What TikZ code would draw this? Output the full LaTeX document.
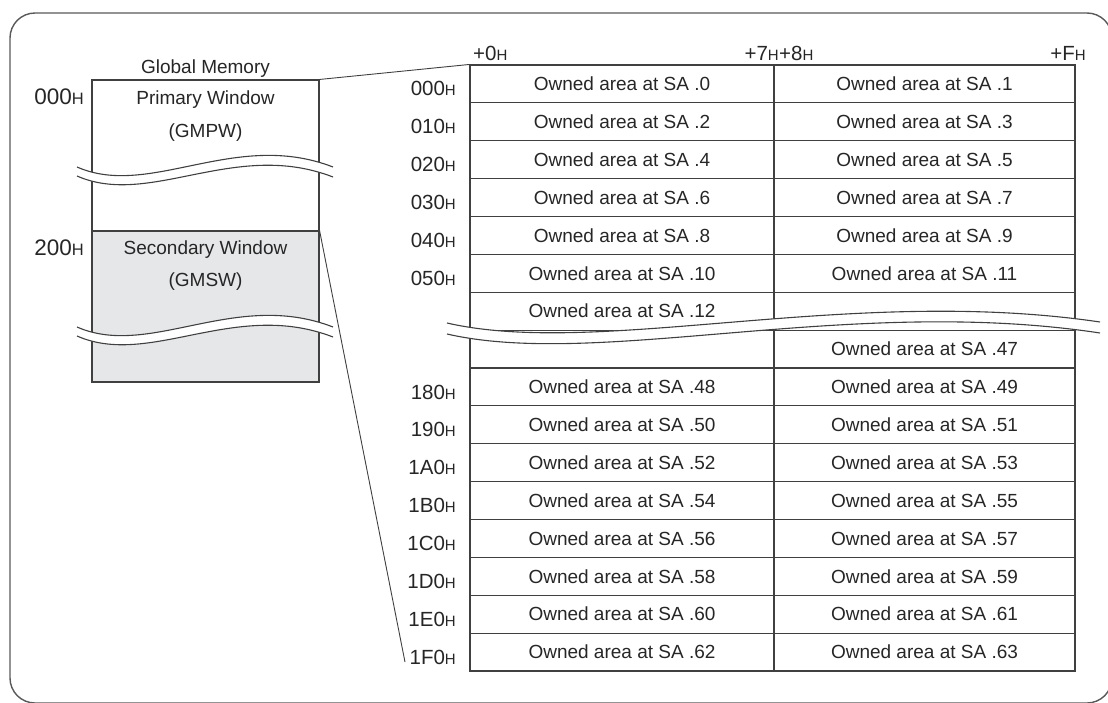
\documentclass[tikz,border=0pt]{standalone}
\usepackage{fontspec}
\setmainfont{Liberation Sans}
\usetikzlibrary{positioning,calc}

\definecolor{linegray}{HTML}{404040}
\definecolor{txtgray}{HTML}{262626}
\definecolor{swfill}{HTML}{E6E7E9}

\newcommand{\hsuf}{{\fontsize{15}{15}\selectfont H}}
\newcommand{\hsufbig}{{\fontsize{16.5}{16.5}\selectfont H}}

\begin{document}
\begin{tikzpicture}[
  x=1pt, y=-1pt,
  cell/.style={
    draw=linegray, line width=1.1pt, minimum width=304pt, minimum height=37.875pt,
    inner sep=0pt, font=\fontsize{19}{20}\selectfont, text=txtgray
  },
  rcell/.style={cell, minimum width=301pt},
  addr/.style={anchor=east, inner sep=0pt, font=\fontsize{20.5}{21}\selectfont, text=txtgray},
  bigaddr/.style={addr, font=\fontsize{22.5}{23}\selectfont},
  memtext/.style={anchor=base, inner sep=0pt, font=\fontsize{19}{20}\selectfont, text=txtgray},
  win/.style={draw=linegray, line width=1.1pt, minimum width=227pt, minimum height=151pt, inner sep=0pt},
  cutline/.style={draw=linegray, line width=1.1pt},
  link/.style={draw=linegray, line width=0.9pt}
]
\useasboundingbox (0,0) rectangle (1108,702);
\clip (0,0) rectangle (1108,702);

% outer frame
\draw[draw=black!65, line width=1.4pt, rounded corners=25pt] (10,13) rectangle (1112,703);

% Global memory map
\node[win] (gmpw) at (205.5,155.5) {};
\node[win, fill=swfill] (gmsw) at (205.5,306.5) {};
\node[memtext] (gmtitle) at (205.5,73) {Global Memory};
\node[memtext] (pwname) at (205.5,104) {Primary Window};
\node[memtext] (pwabbr) at (205.5,137) {(GMPW)};
\node[memtext] (swname) at (205.5,254.5) {Secondary Window};
\node[memtext] (swabbr) at (205.5,286.5) {(GMSW)};
\node[bigaddr] (m000) at (84,97) {000\hsufbig};
\node[bigaddr] (m200) at (84,248) {200\hsufbig};

% breaks in the memory map
\foreach \y in {167,327}{
  \fill[white] (77,\y) .. controls (150,{\y+32}) and (235,{\y-38}) .. (333,\y)
    -- (333,{\y+10}) .. controls (235,{\y-28}) and (150,{\y+41}) .. (77,{\y+9}) -- cycle;
  \draw[cutline] (77,\y) .. controls (150,{\y+32}) and (235,{\y-38}) .. (333,\y);
  \draw[cutline] (77,{\y+9}) .. controls (150,{\y+41}) and (235,{\y-28}) .. (333,{\y+10});
}

% Owned area table
\foreach \i/\lab/\na/\nb in {0/000/0/1,1/010/2/3,2/020/4/5,3/030/6/7,4/040/8/9,5/050/10/11,
    8/180/48/49,9/190/50/51,10/1A0/52/53,11/1B0/54/55,12/1C0/56/57,13/1D0/58/59,14/1E0/60/61,15/1F0/62/63}{
  \node[cell] (l\i) at (622,{65+37.875*(\i+0.5)}) {Owned area at SA .\na};
  \node[rcell] (r\i) at (924.5,{65+37.875*(\i+0.5)}) {Owned area at SA .\nb};
  \node[addr] (a\i) at (456,{70+37.875*(\i+0.5)}) {\lab\hsuf};
}
\node[cell] (l6) at (622,311.19) {Owned area at SA .12};
\node[rcell] (r6) at (924.5,311.19) {};
\node[cell] (l7) at (622,349.06) {};
\node[rcell] (r7) at (924.5,349.06) {Owned area at SA .47};

% column offsets
\node[addr, anchor=west] (h0) at (473,53) {+0\hsuf};
\node[addr] (h7) at (779,53) {+7\hsuf};
\node[addr, anchor=west] (h8) at (779,53) {+8\hsuf};
\node[addr] (hf) at (1086,53) {+F\hsuf};

% break in the table
\fill[white] (447,323) .. controls (600,358) and (850,285) .. (1100,322)
  -- (1100,333) .. controls (850,295) and (600,369) .. (447,334) -- cycle;
\draw[cutline] (447,323) .. controls (600,358) and (850,285) .. (1100,322);
\draw[cutline] (447,334) .. controls (600,369) and (850,295) .. (1100,333);

% links
\coordinate (gmend) at (405,662);
\draw[link] (gmpw.north east) -- (l0.north west);
\draw[link] (gmsw.north east) -- (gmend);

\end{tikzpicture}
\end{document}
